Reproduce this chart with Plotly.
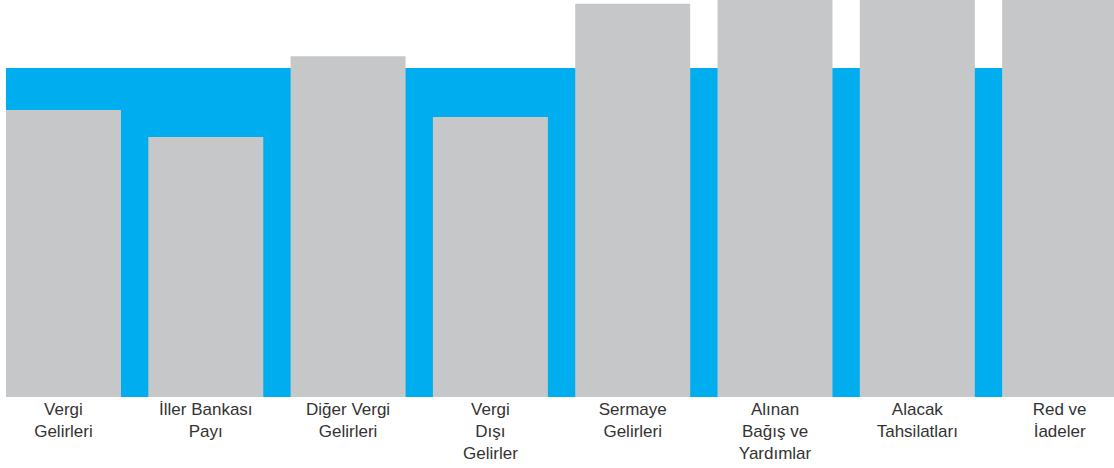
import plotly.graph_objects as go

categories = ["Vergi<br>Gelirleri", "İller Bankası<br>Payı", "Diğer Vergi<br>Gelirleri",
              "Vergi<br>Dışı<br>Gelirler", "Sermaye<br>Gelirleri", "Alınan<br>Bağış ve<br>Yardımlar",
              "Alacak<br>Tahsilatları", "Red ve<br>İadeler"]
realization = [87.2, 79.0, 103.6, 85.1, 119.5, 125.0, 130.0, 128.0]
target = [100, 100, 100, 100, 100, 100, 100, 100]

x = list(range(len(categories)))
bar_w = 0.808

fig = go.Figure()
fig.add_trace(go.Bar(x=x, y=target, width=1.03, offset=-bar_w / 2,
                     marker=dict(color="#00adef", line=dict(width=0)),
                     hoverinfo="skip", showlegend=False))
fig.add_trace(go.Bar(x=x, y=realization, width=bar_w,
                     marker=dict(color="#c6c7c9", line=dict(width=0)),
                     showlegend=False))

fig.update_layout(
    width=1114, height=468,
    margin=dict(l=0, r=0, t=0, b=71),
    barmode="overlay",
    plot_bgcolor="white", paper_bgcolor="white",
    font=dict(family="Liberation Sans, Arial, sans-serif", size=17, color="#333333"),
    xaxis=dict(range=[-0.446, 7.382], tickmode="array", tickvals=x, ticktext=categories,
               showgrid=False, zeroline=False, showline=False, ticks="",
               tickfont=dict(size=17, color="#333333")),
    yaxis=dict(range=[0, 120.67], visible=False, showgrid=False, zeroline=False),
)

fig.write_html("out.html", config={"displayModeBar": False},
               post_script="document.body.style.margin='0';document.body.style.overflow='hidden';")
